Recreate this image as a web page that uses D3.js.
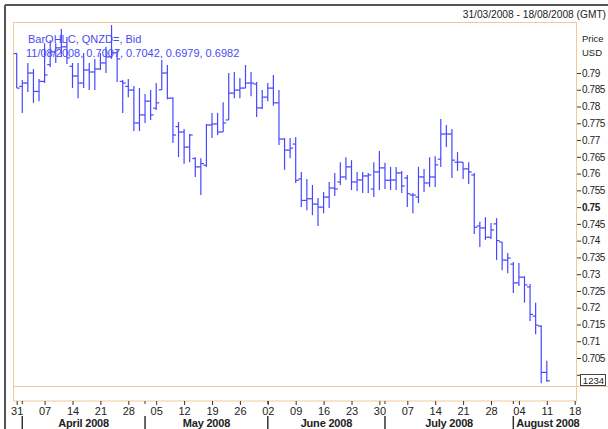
<!DOCTYPE html>
<html>
<head>
<meta charset="utf-8">
<script src="https://cdn.jsdelivr.net/npm/d3@7"></script>
<style>
  body { margin: 0; background: #fff; }
  svg { display: block; font-family: "Liberation Sans", Arial, sans-serif; }
</style>
</head>
<body>
<svg width="608" height="429"></svg>
<script>
// NZD daily bars, 31/03/2008 .. 11/08/2008 (trading days only)
const opens = [0.7958,0.7860,0.7870,0.7900,0.7845,0.7875,0.7925,0.7963,0.7975,0.7978,
  0.7920,0.7891,0.7870,0.7909,0.7903,0.7912,0.7930,0.7948,0.7960,0.7875,
  0.7860,0.7849,0.7751,0.7775,0.7816,0.7795,0.7850,0.7900,0.7825,0.7740,
  0.7724,0.7679,0.7645,0.7620,0.7625,0.7745,0.7748,0.7724,0.7760,0.7840,
  0.7849,0.7855,0.7870,0.7867,0.7796,0.7828,0.7855,0.7811,0.7703,0.7670,
  0.7688,0.7584,0.7520,0.7525,0.7509,0.7500,0.7530,0.7557,0.7575,0.7590,
  0.7620,0.7575,0.7581,0.7593,0.7554,0.7605,0.7617,0.7580,0.7581,0.7602,
  0.7587,0.7536,0.7530,0.7590,0.7572,0.7590,0.7643,0.7718,0.7718,0.7634,
  0.7634,0.7614,0.7596,0.7444,0.7438,0.7410,0.7450,0.7396,0.7342,0.7330,
  0.7274,0.7291,0.7262,0.7175,0.7145,0.7007];
const highs = [0.7960,0.7879,0.7930,0.7912,0.7882,0.7989,0.7998,0.7989,0.8031,0.8007,
  0.7930,0.7930,0.7960,0.7930,0.7942,0.7960,0.7978,0.8043,0.7969,0.7879,
  0.7882,0.7861,0.7855,0.7837,0.7849,0.7870,0.7939,0.7924,0.7828,0.7754,
  0.7733,0.7718,0.7649,0.7646,0.7748,0.7781,0.7781,0.7813,0.7900,0.7903,
  0.7885,0.7924,0.7903,0.7873,0.7849,0.7870,0.7894,0.7849,0.7706,0.7706,
  0.7709,0.7605,0.7584,0.7566,0.7527,0.7545,0.7575,0.7602,0.7634,0.7649,
  0.7640,0.7605,0.7605,0.7602,0.7634,0.7667,0.7632,0.7620,0.7620,0.7608,
  0.7596,0.7542,0.7620,0.7614,0.7649,0.7652,0.7763,0.7745,0.7733,0.7664,
  0.7634,0.7634,0.7602,0.7456,0.7470,0.7453,0.7467,0.7396,0.7363,0.7336,
  0.7333,0.7294,0.7271,0.7215,0.7148,0.7042];
const lows = [0.7855,0.7781,0.7843,0.7811,0.7816,0.7870,0.7918,0.7930,0.7948,0.7927,
  0.7855,0.7825,0.7855,0.7849,0.7849,0.7909,0.7900,0.7942,0.7873,0.7781,
  0.7828,0.7727,0.7727,0.7751,0.7760,0.7790,0.7849,0.7822,0.7691,0.7649,
  0.7629,0.7634,0.7590,0.7536,0.7620,0.7706,0.7715,0.7724,0.7760,0.7825,
  0.7825,0.7855,0.7831,0.7769,0.7793,0.7816,0.7802,0.7685,0.7611,0.7646,
  0.7572,0.7500,0.7491,0.7476,0.7444,0.7482,0.7497,0.7533,0.7566,0.7581,
  0.7551,0.7548,0.7542,0.7542,0.7530,0.7551,0.7554,0.7551,0.7551,0.7542,
  0.7500,0.7482,0.7512,0.7545,0.7560,0.7560,0.7620,0.7679,0.7587,0.7608,
  0.7584,0.7569,0.7420,0.7381,0.7402,0.7405,0.7342,0.7312,0.7303,0.7244,
  0.7265,0.7215,0.7160,0.7121,0.6975,0.6979];
const closes = [0.7855,0.7870,0.7900,0.7845,0.7875,0.7894,0.7963,0.7975,0.7978,0.7945,
  0.7891,0.7870,0.7909,0.7903,0.7912,0.7930,0.7948,0.7960,0.7942,0.7870,
  0.7849,0.7751,0.7775,0.7816,0.7775,0.7811,0.7900,0.7825,0.7715,0.7724,
  0.7679,0.7715,0.7620,0.7630,0.7745,0.7748,0.7724,0.7751,0.7840,0.7849,
  0.7855,0.7870,0.7870,0.7796,0.7828,0.7855,0.7811,0.7703,0.7670,0.7676,
  0.7580,0.7520,0.7525,0.7509,0.7500,0.7530,0.7557,0.7554,0.7590,0.7620,
  0.7575,0.7581,0.7593,0.7596,0.7605,0.7617,0.7580,0.7581,0.7602,0.7563,
  0.7540,0.7536,0.7590,0.7572,0.7590,0.7626,0.7718,0.7718,0.7640,0.7634,
  0.7614,0.7605,0.7440,0.7438,0.7410,0.7432,0.7400,0.7342,0.7348,0.7274,
  0.7291,0.7268,0.7180,0.7148,0.7007,0.6982];

// week ticks (trading-day index of each Monday) and their labels
const weekIdx = [0,5,10,15,20,25,30,35,40,45,50,55,60,65,70,75,80,85,90,95,100];
const dayLabels = ["31","07","14","21","28","05","12","19","26","02","09","16","23","30","07","14","21","28","04","11","18"];
// first trading day of each month, and month names
const monthStart = [1,23,45,66,89];
const monthEnd = [23,45,66,89,100];
const monthLabels = ["April 2008","May 2008","June 2008","July 2008","August 2008"];
const priceTicks = d3.range(0, 19).map(i => +(0.70 + i * 0.005).toFixed(3));

const svg = d3.select('svg');
const orange = '#f7c796';
const barColor = '#4747ff';
const font = '"Liberation Sans", Arial, sans-serif';

// scales
const x = d3.scaleLinear().domain([0, 100]).range([16.7, 574.7]);
const y = d3.scaleLinear().domain([0.69665, 0.80521]).range([386, 22]);

// panel frame
svg.append('line').attr('x1', 5).attr('x2', 608).attr('y1', 5).attr('y2', 5)
  .attr('stroke', '#555').attr('stroke-width', 2);
svg.append('line').attr('x1', 5).attr('x2', 5).attr('y1', 5).attr('y2', 429)
  .attr('stroke', '#555').attr('stroke-width', 2);

// plot borders
svg.append('rect').attr('x', 13.5).attr('y', 22.5).attr('width', 563).attr('height', 378.5)
  .attr('fill', 'none').attr('stroke', orange);
svg.append('line').attr('x1', 13.5).attr('x2', 608).attr('y1', 386.5).attr('y2', 386.5)
  .attr('stroke', orange);

// title, right aligned to the edge
svg.append('text').attr('x', 606).attr('y', 18).attr('text-anchor', 'end')
  .attr('font-size', 10.2).attr('fill', '#222')
  .text('31/03/2008 - 18/08/2008 (GMT)');

// bars
const idx = d3.range(opens.length);
const bars = svg.append('g').attr('stroke', barColor).attr('stroke-width', 1.2);
bars.selectAll('line.hl').data(idx).enter().append('line')
  .attr('x1', i => x(i)).attr('x2', i => x(i))
  .attr('y1', i => y(highs[i])).attr('y2', i => y(lows[i]));
bars.selectAll('line.o').data(idx).enter().append('line')
  .attr('x1', i => x(i) - 3).attr('x2', i => x(i))
  .attr('y1', i => y(opens[i])).attr('y2', i => y(opens[i]));
bars.selectAll('line.c').data(idx).enter().append('line')
  .attr('x1', i => x(i)).attr('x2', i => x(i) + 3)
  .attr('y1', i => y(closes[i])).attr('y2', i => y(closes[i]));

// legend
svg.append('text').attr('x', 28).attr('y', 43).attr('font-size', 11).attr('fill', '#4a4af2')
  .text('BarOHLC, QNZD=, Bid');
svg.append('text').attr('x', 26).attr('y', 57).attr('font-size', 11).attr('fill', '#4a4af2')
  .text('11/08/2008, 0.7007, 0.7042, 0.6979, 0.6982');

// price axis
const yAxis = svg.append('g').attr('transform', 'translate(577,0)')
  .call(d3.axisRight(y).tickValues(priceTicks).tickSize(4).tickPadding(1)
    .tickFormat(d => d === 0.7 ? '' : d3.format('')(d)));
yAxis.select('.domain').remove();
yAxis.selectAll('line').attr('stroke', '#333');
yAxis.selectAll('text').attr('font-size', 10).attr('fill', '#222')
  .attr('letter-spacing', '-0.4px')
  .attr('font-family', font)
  .attr('font-weight', d => d === 0.75 ? 'bold' : 'normal');

svg.append('text').attr('x', 582).attr('y', 42).attr('font-size', 9.5).attr('fill', '#222').text('Price');
svg.append('text').attr('x', 582).attr('y', 56).attr('font-size', 9.5).attr('fill', '#222').text('USD');

// last value box
svg.append('rect').attr('x', 580.5).attr('y', 374.5).attr('width', 25).attr('height', 11)
  .attr('fill', '#fff').attr('stroke', '#444');
svg.append('text').attr('x', 604).attr('y', 384).attr('text-anchor', 'end')
  .attr('font-size', 9.5).attr('fill', '#222').text('1234');

// time axis
const xAxis = svg.append('g').attr('transform', 'translate(0,401)')
  .call(d3.axisBottom(x).tickValues(weekIdx).tickSize(4).tickPadding(2)
    .tickFormat((d, i) => dayLabels[i]));
xAxis.select('.domain').remove();
xAxis.selectAll('line').attr('stroke', '#333');
xAxis.selectAll('text').attr('font-size', 11).attr('fill', '#222')
  .attr('font-family', font);

// month boundaries
svg.selectAll('line.msep').data(monthStart).enter().append('line')
  .attr('x1', d => x(d)).attr('x2', d => x(d))
  .attr('y1', 416).attr('y2', 429)
  .attr('stroke', '#333').attr('stroke-width', 1.5);
svg.selectAll('line.mtick').data(monthStart).enter().append('line')
  .attr('x1', d => x(d)).attr('x2', d => x(d))
  .attr('y1', 401).attr('y2', 404)
  .attr('stroke', '#333');
svg.selectAll('text.month').data(monthLabels).enter().append('text')
  .attr('x', (d, i) => i === 4 ? x(monthStart[i]) + 3 : (x(monthStart[i]) + x(monthEnd[i])) / 2)
  .attr('y', 427).attr('text-anchor', (d, i) => i === 4 ? 'start' : 'middle')
  .attr('font-size', 11).attr('font-weight', 'bold').attr('fill', '#222')
  .attr('letter-spacing', '-0.2px')
  .text(d => d);
</script>
</body>
</html>
